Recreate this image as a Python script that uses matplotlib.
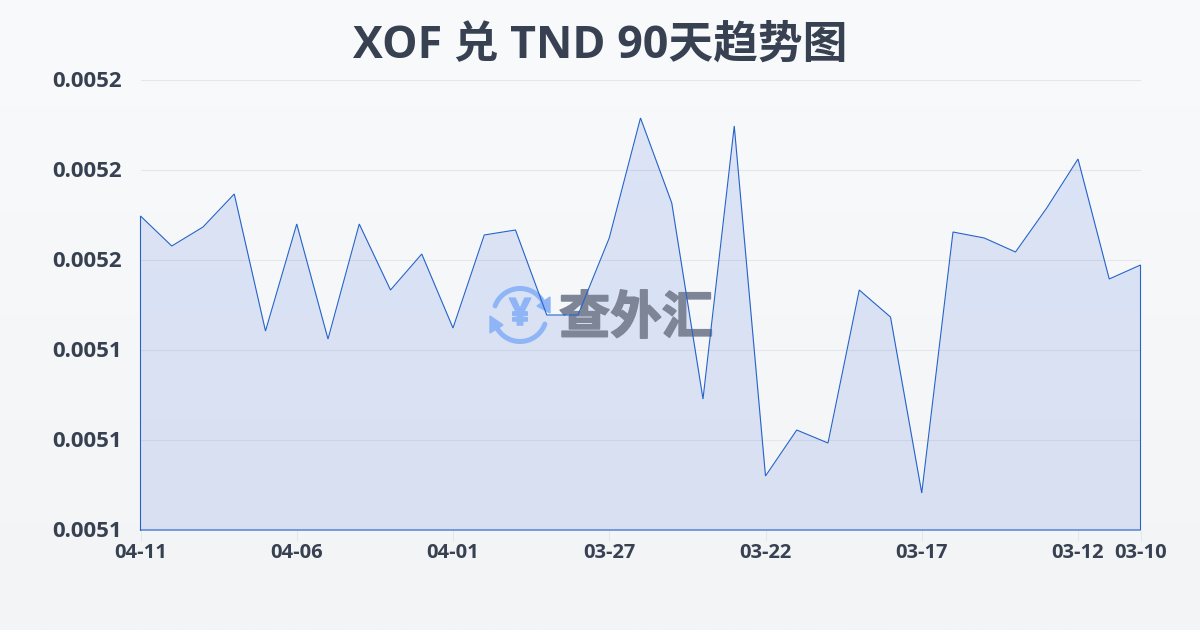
#!/usr/bin/env python3

import numpy as np
import matplotlib
matplotlib.use('Agg')
import matplotlib.pyplot as plt
import matplotlib.patheffects as pe
from matplotlib.patches import Polygon
from matplotlib.ticker import FormatStrFormatter
from matplotlib.transforms import ScaledTranslation

plt.rcParams['font.family'] = ['Open Sans', 'Noto Sans CJK SC', 'DejaVu Sans']

dates = ['04-11', '04-10', '04-09', '04-08', '04-07', '04-06', '04-05', '04-04', '04-03',
         '04-02', '04-01', '03-31', '03-30', '03-29', '03-28', '03-27', '03-26', '03-25',
         '03-24', '03-23', '03-22', '03-21', '03-20', '03-19', '03-18', '03-17', '03-16',
         '03-15', '03-14', '03-13', '03-12', '03-11', '03-10']
rates = [0.00516978, 0.00516311, 0.00516733, 0.00517467, 0.00514422, 0.00516800,
         0.00514244, 0.00516800, 0.00515333, 0.00516133, 0.00514489, 0.00516556,
         0.00516667, 0.00514778, 0.00514778, 0.00516489, 0.00519156, 0.00517267,
         0.00512911, 0.00518978, 0.00511200, 0.00512222, 0.00511933, 0.00515333,
         0.00514733, 0.00510822, 0.00516622, 0.00516489, 0.00516178, 0.00517156,
         0.00518244, 0.00515578, 0.00515889]
y_ticks = [0.00510, 0.00512, 0.00514, 0.00516, 0.00518, 0.00520]
x_labels = ['04-11', '04-06', '04-01', '03-27', '03-22', '03-17', '03-12', '03-10']

W, H = 1200, 630
text_color = '#374151'
line_color = '#2563c9'
grid_color = '#e3e6eb'

fig = plt.figure(figsize=(W / 100, H / 100), dpi=100)

# background, in pixel coordinates
bg = fig.add_axes([0, 0, 1, 1], zorder=0)
grad = np.linspace(0, 1, 256).reshape(-1, 1)
c0, c1 = np.array([0xf9, 0xfa, 0xfc]), np.array([0xf2, 0xf4, 0xf6])
bg.imshow((c0 + (c1 - c0) * grad[..., None]) / 255, extent=[0, W, H, 0], aspect='auto')
bg.set_xlim(0, W)
bg.set_ylim(H, 0)
bg.axis('off')

ax = fig.add_axes([140.5 / W, 1 - 530 / H, 1000 / W, 450 / H], zorder=1)
ax.patch.set_alpha(0)

x = np.arange(len(dates))
y0 = y_ticks[0]
ax.fill_between(x, y0, rates, color='#2a5bd8', alpha=0.135, lw=0, zorder=1)
ax.plot(np.r_[x[0], x, x[-1], x[0]], np.r_[y0, rates, y0, y0], color=line_color, lw=0.8,
        solid_joinstyle='miter', clip_on=False, zorder=4)

ax.set_xlim(x[0], x[-1])
ax.set_ylim(y_ticks[0], y_ticks[-1])
ax.set_yticks(y_ticks)
ax.yaxis.set_major_formatter(FormatStrFormatter('%.4f'))
ax.set_xticks([dates.index(d) for d in x_labels])
ax.set_xticklabels(x_labels)
ax.grid(axis='y', color=grid_color, lw=0.8, zorder=0)
ax.set_axisbelow(True)
for s in ax.spines.values():
    s.set_visible(False)
ax.tick_params(axis='y', length=0, pad=13.5, labelsize=16, labelcolor=text_color)
ax.tick_params(axis='x', length=8, width=0.7, color=grid_color, pad=1, labelsize=14.5,
               labelcolor=text_color)
for lab in ax.get_xticklabels():
    lab.set_fontweight('bold')
up = ScaledTranslation(0, 1 / 100, fig.dpi_scale_trans)
for lab in ax.get_yticklabels():
    lab.set_fontweight('bold')
    lab.set_transform(lab.get_transform() + up)

# watermark
tr = bg.transData
icon = '#8fb5f6'
ax.text(636, 318, '查外汇', transform=tr, fontsize=37, fontweight='bold', color='#7e8597',
        family=['Noto Sans CJK SC'], ha='center', va='center', zorder=3, clip_on=False,
        path_effects=[pe.withStroke(linewidth=1.2, foreground='#7e8597')])
t = np.radians(np.linspace(18, 160, 40))
ax.plot(520 + 26.5 * np.cos(t), 315 - 26.5 * np.sin(t), transform=tr, color=icon, lw=3.6, zorder=3,
        clip_on=False, solid_capstyle='round')
t = np.radians(np.linspace(198, 340, 40))
ax.plot(520 + 26.5 * np.cos(t), 315 - 26.5 * np.sin(t), transform=tr, color=icon, lw=3.6, zorder=3,
        clip_on=False, solid_capstyle='round')
ax.add_patch(Polygon([[537, 306], [550, 297], [550, 313]], transform=tr, color=icon, zorder=3, clip_on=False))
ax.add_patch(Polygon([[490, 316], [503, 325], [490, 333]], transform=tr, color=icon, zorder=3, clip_on=False))
ax.text(520, 315, '¥', transform=tr, fontsize=27, fontweight='bold', color=icon, ha='center',
        va='center', zorder=3, clip_on=False, path_effects=[pe.withStroke(linewidth=1.2, foreground=icon)])

fig.text(600.5 / W, 1 - 46.5 / H, 'XOF 兑 TND 90天趋势图', fontsize=32.2, fontweight='bold', color=text_color,
         ha='center', va='center')

fig.savefig('out.png', dpi=100)
